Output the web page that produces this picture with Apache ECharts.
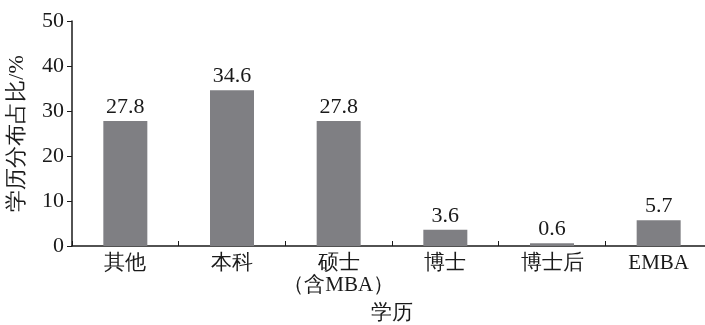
<!DOCTYPE html>
<html><head><meta charset="utf-8">
<script src="https://cdn.jsdelivr.net/npm/echarts@6/dist/echarts.min.js"></script>
<style>html,body{margin:0;padding:0;background:#fff}#c{width:705px;height:325px}</style>
</head><body><div id="c"></div>
<script>
const categories = ['其他', '本科', '硕士\n（含MBA）', '博士', '博士后', 'EMBA'];
const values = [27.8, 34.6, 27.8, 3.6, 0.6, 5.7];
const yTicks = [0, 10, 20, 30, 40, 50];
const xName = '学历';
const yName = '学历分布占比/%';

const FONT = "'Liberation Serif'";
const chart = echarts.init(document.getElementById('c'), null, {renderer: 'canvas'});
chart.setOption({
  animation: false,
  backgroundColor: '#fff',
  textStyle: {fontFamily: FONT},
  grid: {left: 72, right: -7, top: 21, bottom: 79, containLabel: false, outerBoundsMode: 'none'},
  xAxis: {
    type: 'category',
    data: categories,
    name: xName,
    nameLocation: 'middle',
    nameGap: 57,
    nameTextStyle: {fontFamily: FONT, fontSize: 21, color: '#1a1a1a'},
    axisLine: {lineStyle: {color: '#1a1a1a', width: 1.5}},
    axisTick: {show: true, inside: true, length: 5, lineStyle: {color: '#1a1a1a'}},
    axisLabel: {interval: 0, fontFamily: FONT, fontSize: 21, color: '#1a1a1a', margin: 6, lineHeight: 22}
  },
  yAxis: {
    type: 'value',
    min: yTicks[0],
    max: yTicks[yTicks.length - 1],
    interval: 10,
    name: yName,
    nameLocation: 'middle',
    nameGap: 44,
    nameRotate: 90,
    nameTextStyle: {fontFamily: FONT, fontSize: 22, color: '#1a1a1a'},
    axisLine: {show: true, lineStyle: {color: '#1a1a1a', width: 1.5}},
    axisTick: {show: true, inside: false, length: 5, lineStyle: {color: '#1a1a1a'}},
    splitLine: {show: false},
    axisLabel: {fontFamily: FONT, fontSize: 22, color: '#1a1a1a', margin: 8}
  },
  series: [{
    type: 'bar',
    data: values,
    barWidth: 44,
    itemStyle: {color: '#7f7f83'},
    label: {
      show: true,
      position: 'top',
      distance: 3,
      fontFamily: FONT,
      fontSize: 22,
      color: '#1a1a1a'
    }
  }]
});
</script></body></html>
